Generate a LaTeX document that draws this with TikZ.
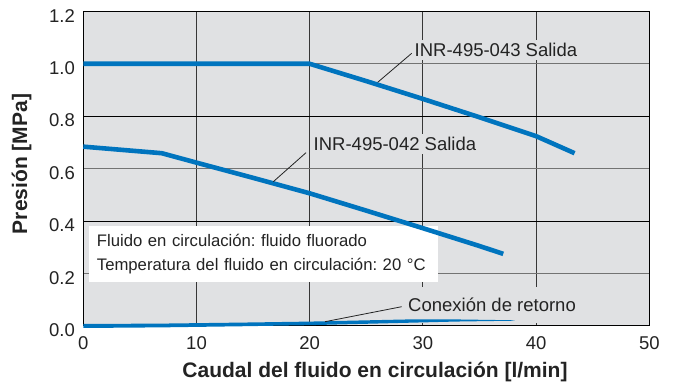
\documentclass[tikz,border=0pt]{standalone}
\usepackage{fontspec}
\setmainfont{Liberation Sans}
\definecolor{plotbg}{RGB}{224,225,227}
\definecolor{curveblue}{RGB}{0,116,190}
\definecolor{txt}{RGB}{35,35,35}
\definecolor{gridgrey}{RGB}{115,115,115}
\definecolor{griddark}{RGB}{55,55,55}
\begin{document}
\frenchspacing
\begin{tikzpicture}[x=1pt,y=1pt,
  ticklabel/.style={inner sep=0pt, text=txt, font=\fontsize{18.5}{22}\selectfont},
  curvelabel/.style={fill=plotbg, inner xsep=1.5pt, inner ysep=3pt, text=txt, font=\fontsize{18.5}{22}\selectfont},
  axistitle/.style={inner sep=0pt, text=txt, font=\bfseries\fontsize{21}{25}\selectfont},
  legendbox/.style={fill=white, inner xsep=8.4pt, inner ysep=0pt, text width=332.6pt, align=left, minimum height=55.7pt, text=txt, font=\fontsize{16.7}{24}\selectfont},
  curve/.style={curveblue, line width=4.6pt, line join=round},
  leader/.style={txt, line width=0.8pt}]
\useasboundingbox (0,0) rectangle (674,387);
% plot area
\begin{scope}[shift={(83.3,61)}, x=11.32pt, y=262.2pt]
  \fill[plotbg] (0,0) rectangle (50,1.2);
  \foreach \v in {10,20,30,40} \draw[griddark, line width=0.9pt] (\v,0) -- (\v,1.2);
  \foreach \h in {0.2,0.6,1.0} \draw[gridgrey, line width=1.4pt] (0,\h) -- (50,\h);
  \foreach \h in {0.4,0.8} \draw[black, line width=1.1pt] (0,\h) -- (50,\h);
  \draw[black, line width=1pt] (0,0) rectangle (50,1.2);
\end{scope}
% curve labels with background
\node[curvelabel, anchor=west] (l43) at (413,337) {INR-495-043 Salida};
\node[curvelabel, anchor=west] (l42) at (312,243) {INR-495-042 Salida};
\node[curvelabel, anchor=west, minimum height=36pt] (lret) at (406.5,82) {Conexión de retorno};
% legend
\node[legendbox, anchor=north west] (legend) at (88.3,161) {Fluido en circulación: fluido fluorado\\Temperatura del fluido en circulación: 20 °C};
% curves
\begin{scope}[shift={(83.3,61)}, x=11.32pt, y=262.2pt]
  \draw[curve] (0,1.0) -- (20,1.0) -- (25,0.934) -- (30,0.866) -- (35,0.796) -- (40,0.724) -- (43.4,0.659);
  \draw[curve] (0,0.684) -- (6.93,0.659) -- (10,0.623) -- (15,0.565) -- (20,0.506) -- (25,0.44) -- (30,0.373) -- (35,0.305) -- (37.1,0.275);
  \fill[curveblue] (0,0.0076) -- (7,0.0092) -- (14,0.013) -- (20,0.0168) -- (25,0.0216) -- (29,0.0253) -- (33,0.025) -- (38.1,0.0218)
     -- (38.1,0.0202) -- (33,0.017) -- (29,0.0127) -- (25,0.0084) -- (20,0.0032) -- (14,-0.001) -- (7,-0.0052) -- (0,-0.0076) -- cycle;
\end{scope}
% leaders
\coordinate (a43) at (411.7,333.7); \coordinate (b43) at (377.7,304.7);
\coordinate (a42) at (306,234.3);   \coordinate (b42) at (273.3,205.3);
\coordinate (aret) at (401.7,80.3); \coordinate (bret) at (325,65.3);
\draw[leader] (a43) -- (b43);
\draw[leader] (a42) -- (b42);
\draw[leader] (aret) -- (bret);
% tick labels
\foreach \v/\t in {0/0.0,0.2/0.2,0.4/0.4,0.6/0.6,0.8/0.8,1.0/1.0,1.2/1.2}
  \node[ticklabel, anchor=east] (y\t) at (75,{61+262.2*\v-4.2}) {\t};
\foreach \v in {0,10,20,30,40,50}
  \node[ticklabel] (x\v) at ({83.3+11.32*\v},43.7) {\v};
% axis titles
\node[axistitle] (xtitle) at (375,15.3) {Caudal del fluido en circulación [l/min]};
\node[axistitle, rotate=90] (ytitle) at (21.7,223) {Presión [MPa]};
\end{tikzpicture}
\end{document}
